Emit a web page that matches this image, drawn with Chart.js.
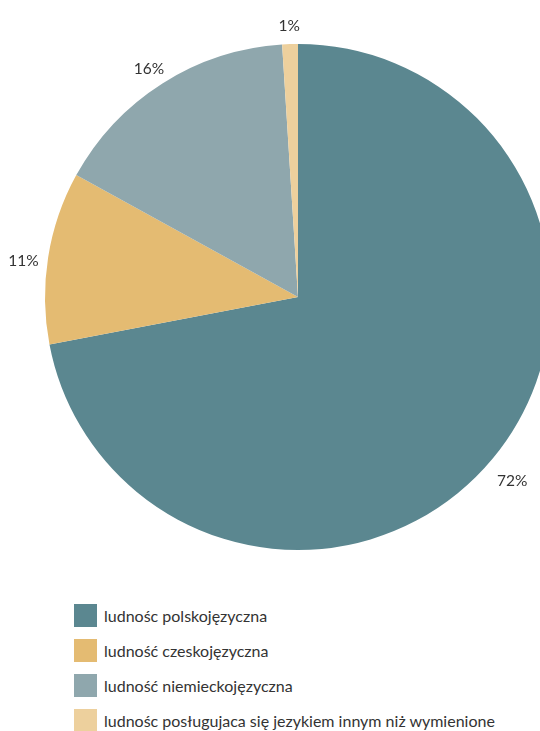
<!DOCTYPE html>
<html>
<head>
<meta charset="utf-8">
<script src="https://cdn.jsdelivr.net/npm/chart.js@4"></script>
<style>
    html, body { margin: 0; padding: 0; background: #fff; overflow: hidden; width: 540px; height: 731px; }
    #wrap { position: absolute; left: 0; top: 0; width: 596px; height: 594px; }
    .legend { position: absolute; left: 74px; top: 604px; font-family: Lato, "Open Sans", sans-serif; font-size: 16px; color: #333; }
    .legend .item { display: flex; align-items: center; height: 23px; margin-bottom: 12px; white-space: nowrap; }
    .legend .box { width: 23px; height: 23px; margin-right: 7px; flex: none; }
</style>
</head>
<body>
<div id="wrap"><canvas id="pieChart" width="596" height="594"></canvas></div>
<div class="legend" id="legend"></div>
<script>
// Dane wykresu
const categories = [
    'ludnośc polskojęzyczna',
    'ludność czeskojęzyczna',
    'ludność niemieckojęzyczna',
    'ludnośc posługujaca się jezykiem innym niż wymienione'
];
const shares = [72, 11, 16, 1];
const colors = ['#5b8790', '#e4bb72', '#8fa7ad', '#edd09d'];

// Etykiety procentowe na zewnątrz wycinków
const outsideLabels = {
    id: 'outsideLabels',
    afterDatasetsDraw(chart) {
        const ctx = chart.ctx;
        const meta = chart.getDatasetMeta(0);
        ctx.save();
        ctx.font = '15.5px Lato, "Open Sans", sans-serif';
        ctx.fillStyle = '#333';
        ctx.textAlign = 'center';
        ctx.textBaseline = 'middle';
        meta.data.forEach((arc, i) => {
            const mid = (arc.startAngle + arc.endAngle) / 2;
            const r = arc.outerRadius + 25;
            ctx.fillText(shares[i] + '%', arc.x + Math.cos(mid) * r, arc.y + Math.sin(mid) * r + 7);
        });
        ctx.restore();
    }
};

new Chart(document.getElementById('pieChart'), {
    type: 'pie',
    data: {
        labels: categories,
        datasets: [{
            data: shares,
            backgroundColor: colors,
            borderWidth: 0
        }]
    },
    options: {
        responsive: false,
        animation: false,
        layout: { padding: 44 },
        plugins: {
            legend: { display: false },
            tooltip: { enabled: false }
        }
    },
    plugins: [outsideLabels]
});

// Legenda
const legend = document.getElementById('legend');
categories.forEach((name, i) => {
    const item = document.createElement('div');
    item.className = 'item';
    item.innerHTML = '<span class="box" style="background:' + colors[i] + '"></span><span>' + name + '</span>';
    legend.appendChild(item);
});
</script>
</body>
</html>
